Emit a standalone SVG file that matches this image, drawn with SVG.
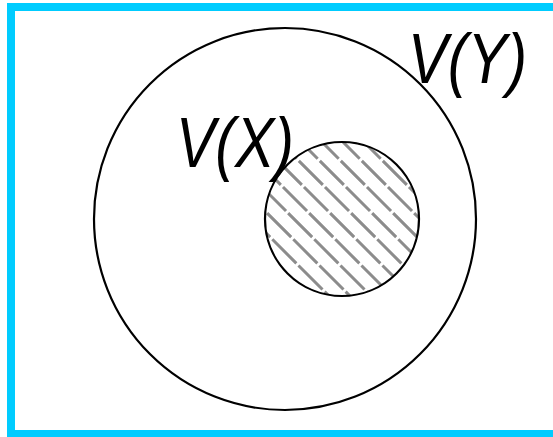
<svg xmlns="http://www.w3.org/2000/svg" width="553" height="437" viewBox="0 0 553 437">
<defs>
<style>
.lbl{font-family:"Liberation Sans",Arial,sans-serif;font-style:italic;font-size:70px;fill:#000}
.circ{fill:none;stroke:#000;stroke-width:2.2}
.hatch{stroke:#8c8c8c;stroke-width:3;stroke-dasharray:34 3}
</style>
<clipPath id="inner"><circle cx="342" cy="219" r="77"/></clipPath>
</defs>
<rect x="0" y="0" width="553" height="437" fill="#fff"/>
<rect x="11" y="7" width="546" height="427" fill="none" stroke="#00ccff" stroke-width="8"/>
<g id="VY">
<circle class="circ" cx="285" cy="219" r="191"/>
<text class="lbl" x="408" y="83" textLength="119" lengthAdjust="spacingAndGlyphs">V(Y)</text>
</g>
<g id="VX">
<g clip-path="url(#inner)">
<g class="hatch">
<line x1="0" y1="30" x2="300" y2="330"/>
<line x1="21" y1="30" x2="321" y2="330"/>
<line x1="42" y1="30" x2="342" y2="330"/>
<line x1="63" y1="30" x2="363" y2="330"/>
<line x1="84" y1="30" x2="384" y2="330"/>
<line x1="105" y1="30" x2="405" y2="330"/>
<line x1="126" y1="30" x2="426" y2="330"/>
<line x1="147" y1="30" x2="447" y2="330"/>
<line x1="168" y1="30" x2="468" y2="330"/>
<line x1="189" y1="30" x2="489" y2="330"/>
<line x1="210" y1="30" x2="510" y2="330"/>
<line x1="231" y1="30" x2="531" y2="330"/>
<line x1="252" y1="30" x2="552" y2="330"/>
<line x1="273" y1="30" x2="573" y2="330"/>
<line x1="294" y1="30" x2="594" y2="330"/>
</g>
</g>
<circle class="circ" cx="342" cy="219" r="77"/>
<text class="lbl" x="176" y="167" textLength="118" lengthAdjust="spacingAndGlyphs">V(X)</text>
</g>
</svg>
